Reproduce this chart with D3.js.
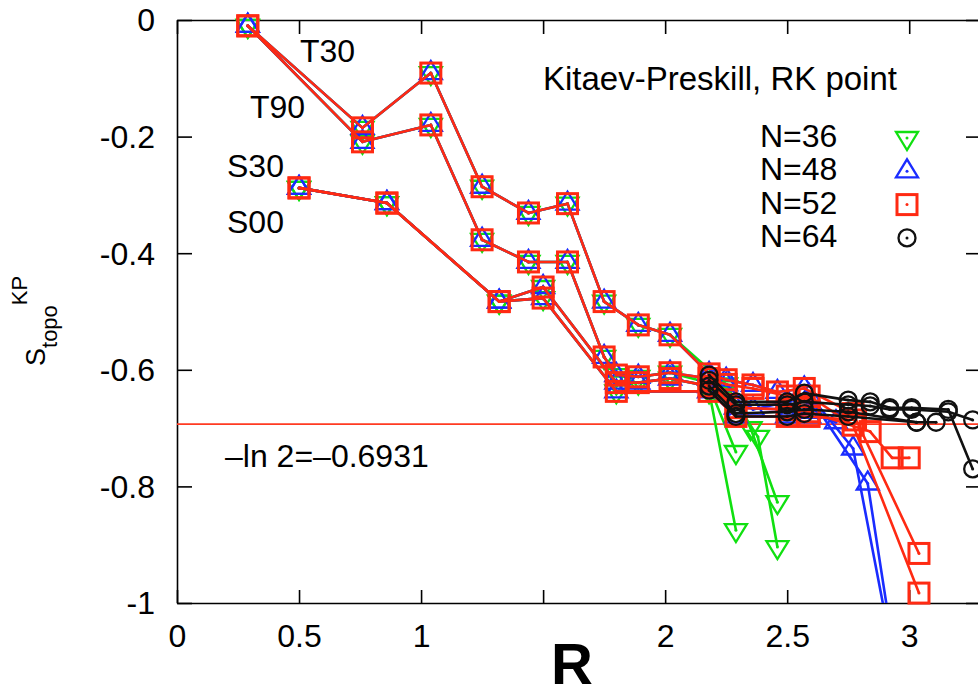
<!DOCTYPE html>
<html>
<head>
<meta charset="utf-8">
<script src="https://cdn.jsdelivr.net/npm/d3@7"></script>
<style>
body { margin: 0; background: #fff; }
svg { display: block; font-family: "Liberation Sans", Arial, sans-serif; }
</style>
</head>
<body>
<svg id="chart" width="978" height="696"></svg>
<script>
// part of the curves where N=36,48,52 coincide  [R, S_topo]
var t30 = [[0.29,-0.01],[0.76,-0.185],[1.04,-0.091],[1.25,-0.286],[1.44,-0.331],[1.60,-0.315],[1.75,-0.483],[1.89,-0.523],[2.02,-0.54]];
var t90 = [[0.29,-0.01],[0.76,-0.209],[1.04,-0.18],[1.25,-0.377],[1.44,-0.415],[1.60,-0.415],[1.75,-0.578],[1.80,-0.609],[1.89,-0.612],[2.02,-0.605]];
var s30 = [[0.50,-0.288],[0.86,-0.314],[1.32,-0.483],[1.50,-0.458],[1.80,-0.622],[1.89,-0.622],[2.02,-0.615]];
var s00 = [[0.50,-0.288],[0.86,-0.314],[1.32,-0.483],[1.50,-0.477],[1.80,-0.637]];

// tails at large R, per system size
var n36T30 = [[2.25,-0.625],[2.35,-0.70],[2.46,-0.827]];
var n36T90 = [[2.25,-0.63],[2.38,-0.715],[2.46,-0.904]];
var n36S30 = [[2.18,-0.628],[2.29,-0.741]];
var n36S00 = [[2.18,-0.637],[2.29,-0.875]];

var n48T30 = [[2.18,-0.607],[2.25,-0.617],[2.36,-0.626],[2.46,-0.638],[2.57,-0.632],[2.77,-0.735],[2.97,-1.17]];
var n48T90 = [[2.18,-0.615],[2.25,-0.625],[2.36,-0.668],[2.50,-0.655],[2.59,-0.645],[2.83,-0.795],[2.98,-1.2]];
var n48S30 = [[2.18,-0.628],[2.29,-0.665],[2.50,-0.668],[2.59,-0.672],[2.70,-0.69]];
var n48S00 = [[2.18,-0.637],[2.29,-0.68],[2.50,-0.68],[2.59,-0.68]];

var n52T30 = [[2.18,-0.607],[2.25,-0.617],[2.36,-0.626],[2.46,-0.638],[2.57,-0.632],[2.77,-0.675],[3.04,-0.915]];
var n52T90 = [[2.18,-0.615],[2.25,-0.625],[2.36,-0.632],[2.50,-0.645],[2.59,-0.645],[2.77,-0.695],[3.04,-0.983]];
var n52S30 = [[2.18,-0.628],[2.29,-0.665],[2.50,-0.668],[2.59,-0.672],[2.84,-0.706],[2.93,-0.751],[3.00,-0.751]];
var n52S00 = [[2.18,-0.637],[2.29,-0.68],[2.50,-0.68],[2.59,-0.68],[2.78,-0.686]];

var n64T30 = [[2.18,-0.609],[2.29,-0.655],[2.50,-0.655],[2.57,-0.64],[2.75,-0.652],[2.84,-0.655],[2.92,-0.665],[3.01,-0.665],[3.16,-0.668],[3.26,-0.77]];
var n64T90 = [[2.18,-0.618],[2.29,-0.66],[2.50,-0.66],[2.57,-0.655],[2.75,-0.66],[2.84,-0.662],[2.92,-0.668],[3.01,-0.668],[3.16,-0.672],[3.26,-0.686]];
var n64S30 = [[2.18,-0.628],[2.29,-0.675],[2.50,-0.672],[2.57,-0.668],[2.75,-0.672],[3.03,-0.69],[3.11,-0.69]];
var n64S00 = [[2.18,-0.635],[2.29,-0.68],[2.50,-0.68],[2.57,-0.675],[2.75,-0.68],[3.03,-0.69]];

var sizes = ["N=36", "N=48", "N=52", "N=64"];
var xTicks = [0, 0.5, 1, 1.5, 2, 2.5, 3];
var yTicks = [0, -0.2, -0.4, -0.6, -0.8, -1];
var familyNames = ["T30", "T90", "S30", "S00"];
var ln2 = -0.6931;

var colors = ["#10e010", "#1a2cff", "#ff2a12", "#111111"];
var shapes = ["down", "up", "square", "circle"];

var svg = d3.select("#chart");
var pLeft = 177, pRight = 980, pTop = 20, pBottom = 603;

var x = d3.scaleLinear().domain([0, 3.29]).range([pLeft, pRight]);
var y = d3.scaleLinear().domain([-1, 0]).range([pBottom, pTop]);

svg.append("clipPath").attr("id", "plotclip")
  .append("rect").attr("x", pLeft).attr("y", pTop)
  .attr("width", pRight - pLeft).attr("height", pBottom - pTop);

// axes, gnuplot style ticks pointing inward
var gx = svg.append("g").attr("transform", "translate(0," + pBottom + ")")
  .call(d3.axisBottom(x).tickValues(xTicks).tickSizeInner(-13).tickSizeOuter(0).tickPadding(21)
    .tickFormat(function(d) { return d === 1.5 ? "" : String(d); }));
var gy = svg.append("g").attr("transform", "translate(" + pLeft + ",0)")
  .call(d3.axisLeft(y).tickValues(yTicks).tickSizeInner(-15).tickSizeOuter(0).tickPadding(22)
    .tickFormat(function(d) { return String(d); }));
var gt = svg.append("g").attr("transform", "translate(0," + pTop + ")")
  .call(d3.axisTop(x).tickValues(xTicks).tickSizeInner(-14).tickSizeOuter(0).tickFormat(""));
var gr = svg.append("g").attr("transform", "translate(" + pRight + ",0)")
  .call(d3.axisRight(y).tickValues(yTicks).tickSizeInner(-14).tickSizeOuter(0).tickFormat(""));

[gx, gy, gt, gr].forEach(function(g) {
  g.attr("font-family", null).attr("font-size", 32);
  g.selectAll("path, line").attr("stroke", "#000").attr("stroke-width", 1.6);
  g.selectAll("text").attr("fill", "#000");
});
gy.selectAll("text").attr("dy", "0.34em");

// -ln 2 line
svg.append("line")
  .attr("x1", pLeft).attr("x2", pRight)
  .attr("y1", y(ln2)).attr("y2", y(ln2))
  .attr("stroke", "#ff3a22").attr("stroke-width", 1.6);

var line = d3.line()
  .x(function(d) { return x(d[0]); })
  .y(function(d) { return y(d[1]); });

function drawMarker(g, shape, color, px, py) {
  if (shape === "down") {
    g.append("path").attr("d", "M" + (px - 11) + "," + (py - 6) + "L" + (px + 11) + "," + (py - 6) + "L" + px + "," + (py + 12) + "Z")
      .attr("fill", "none").attr("stroke", color).attr("stroke-width", 2.3);
  } else if (shape === "up") {
    g.append("path").attr("d", "M" + (px - 11) + "," + (py + 6) + "L" + (px + 11) + "," + (py + 6) + "L" + px + "," + (py - 12) + "Z")
      .attr("fill", "none").attr("stroke", color).attr("stroke-width", 2.3);
  } else if (shape === "square") {
    g.append("rect").attr("x", px - 10).attr("y", py - 10).attr("width", 20).attr("height", 20)
      .attr("fill", "none").attr("stroke", color).attr("stroke-width", 3);
  } else {
    g.append("circle").attr("cx", px).attr("cy", py).attr("r", 8.5)
      .attr("fill", "none").attr("stroke", color).attr("stroke-width", 2.3);
  }
  g.append("circle").attr("cx", px).attr("cy", py).attr("r", 1.5).attr("fill", color);
}

var tails = [
  [n36T30, n36T90, n36S30, n36S00],
  [n48T30, n48T90, n48S30, n48S00],
  [n52T30, n52T90, n52S30, n52S00],
  [n64T30, n64T90, n64S30, n64S00]
];
var commons = [t30, t90, s30, s00];

var plot = svg.append("g");
tails.forEach(function(famTails, i) {
  famTails.forEach(function(tail, j) {
    var pts = i < 3 ? commons[j].concat(tail) : tail;
    var g = plot.append("g");
    g.append("path").datum(pts)
      .attr("d", line)
      .attr("clip-path", "url(#plotclip)")
      .attr("fill", "none")
      .attr("stroke", colors[i])
      .attr("stroke-width", 2.6)
      .attr("stroke-linejoin", "round");
    pts.filter(function(d) { return d[1] >= -1; }).forEach(function(d) {
      drawMarker(g, shapes[i], colors[i], x(d[0]), y(d[1]));
    });
  });
});

// texts
svg.append("text").attr("x", 543).attr("y", 90).attr("font-size", 33)
  .text("Kitaev-Preskill, RK point");

var famPos = [[300, 62], [250, 118], [227, 177], [227, 233]];
familyNames.forEach(function(n, i) {
  svg.append("text").attr("x", famPos[i][0]).attr("y", famPos[i][1]).attr("font-size", 32).text(n);
});

svg.append("text").attr("x", 225).attr("y", 467).attr("font-size", 32)
  .text("\u2013ln 2=\u20130.6931");

sizes.forEach(function(s, i) {
  var by = 147 + i * 33.3;
  svg.append("text").attr("x", 760).attr("y", by).attr("font-size", 32).text(s);
  drawMarker(svg.append("g"), shapes[i], colors[i], 907, by - 9);
});

svg.append("text").attr("x", 572).attr("y", 684).attr("text-anchor", "middle")
  .attr("font-size", 58).attr("font-weight", "bold").text("R");

var yl = svg.append("text").attr("transform", "translate(45,366) rotate(-90)");
yl.append("tspan").attr("font-size", 27).text("S");
yl.append("tspan").attr("font-size", 22).attr("dy", 12).text("topo");
yl.append("tspan").attr("font-size", 22).attr("dy", -30).text("KP");
</script>
</body>
</html>
